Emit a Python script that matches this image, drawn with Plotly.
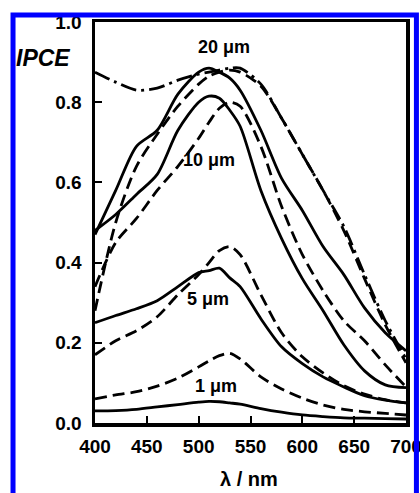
import plotly.graph_objects as go

# Wavelength grid (nm)
wavelength = [400, 420, 440, 460, 480, 500, 510, 520, 530, 540, 560, 580, 600, 620, 640, 660, 680, 700]

# IPCE values
ipce_1um_solid = [0.030, 0.031, 0.034, 0.040, 0.046, 0.052, 0.054, 0.053, 0.050, 0.047, 0.036, 0.027, 0.020, 0.016, 0.013, 0.012, 0.011, 0.010]
ipce_1um_dash = [0.060, 0.070, 0.078, 0.092, 0.112, 0.140, 0.155, 0.168, 0.174, 0.160, 0.115, 0.085, 0.062, 0.045, 0.034, 0.028, 0.024, 0.020]
ipce_5um_solid = [0.250, 0.268, 0.285, 0.305, 0.340, 0.375, 0.380, 0.386, 0.362, 0.340, 0.260, 0.190, 0.148, 0.115, 0.090, 0.068, 0.057, 0.050]
ipce_5um_dash = [0.170, 0.205, 0.230, 0.265, 0.320, 0.370, 0.400, 0.430, 0.440, 0.420, 0.320, 0.225, 0.165, 0.125, 0.093, 0.072, 0.058, 0.050]
ipce_10um_solid = [0.480, 0.520, 0.570, 0.620, 0.730, 0.800, 0.815, 0.810, 0.780, 0.740, 0.580, 0.460, 0.360, 0.280, 0.195, 0.130, 0.095, 0.088]
ipce_10um_dash = [0.340, 0.450, 0.510, 0.580, 0.640, 0.710, 0.750, 0.785, 0.800, 0.790, 0.690, 0.540, 0.420, 0.330, 0.255, 0.205, 0.145, 0.090]
ipce_20um_solid = [0.470, 0.580, 0.690, 0.730, 0.820, 0.875, 0.885, 0.875, 0.860, 0.830, 0.730, 0.610, 0.530, 0.440, 0.370, 0.287, 0.225, 0.180]
ipce_20um_dash = [0.280, 0.500, 0.640, 0.720, 0.790, 0.845, 0.865, 0.875, 0.880, 0.875, 0.840, 0.760, 0.670, 0.580, 0.480, 0.360, 0.245, 0.150]
ipce_20um_dashdot = [0.875, 0.850, 0.830, 0.835, 0.855, 0.870, 0.875, 0.880, 0.885, 0.885, 0.845, 0.760, 0.670, 0.580, 0.490, 0.370, 0.255, 0.160]

x_ticks = [400, 450, 500, 550, 600, 650, 700]
y_ticks = [0.0, 0.2, 0.4, 0.6, 0.8, 1.0]

labels = ["20 \u03bcm", "10 \u03bcm", "5 \u03bcm", "1 \u03bcm"]
label_x = [524.6, 510.2, 509.3, 516.9]
label_y = [0.938, 0.656, 0.309, 0.092]

DASH = "12px,6px"
DASHDOT = "16px,5px,3px,5px"

series = [
    (ipce_1um_solid, "solid"),
    (ipce_1um_dash, DASH),
    (ipce_5um_solid, "solid"),
    (ipce_5um_dash, DASH),
    (ipce_10um_solid, "solid"),
    (ipce_10um_dash, DASH),
    (ipce_20um_solid, "solid"),
    (ipce_20um_dash, DASH),
    (ipce_20um_dashdot, DASHDOT),
]

fig = go.Figure()
for vals, dash in series:
    fig.add_trace(go.Scatter(
        x=wavelength, y=vals, mode="lines",
        line=dict(color="black", width=2.8, dash=dash, shape="spline", smoothing=0.8),
        showlegend=False, hoverinfo="skip",
    ))

font_main = "Liberation Sans, Arial, sans-serif"

fig.update_xaxes(
    range=[400, 700], tickvals=x_ticks, ticktext=[str(v) for v in x_ticks],
    ticks="inside", ticklen=7, tickwidth=2, tickcolor="black",
    showline=True, linecolor="black", linewidth=3.5, mirror=True,
    showgrid=False, zeroline=False,
    tickfont=dict(family=font_main, size=19, color="black", weight="bold"),
    ticklabelstandoff=4,
)
fig.update_yaxes(
    range=[0, 1.0], tickvals=y_ticks, ticktext=["%.1f" % v for v in y_ticks],
    ticks="inside", ticklen=7, tickwidth=2, tickcolor="black",
    showline=True, linecolor="black", linewidth=3.5, mirror=True,
    showgrid=False, zeroline=False,
    tickfont=dict(family=font_main, size=19, color="black", weight="bold"),
    ticklabelstandoff=6,
)

annotations = []
for t, xx, yy in zip(labels, label_x, label_y):
    annotations.append(dict(
        x=xx, y=yy, xref="x", yref="y", text="<b>%s</b>" % t, showarrow=False,
        font=dict(family=font_main, size=18, color="black"),
        xanchor="center", yanchor="middle",
    ))
annotations.append(dict(
    x=-0.166, y=0.911, xref="paper", yref="paper", text="<b><i>IPCE</i></b>",
    showarrow=False, font=dict(family=font_main, size=23, color="black"),
    xanchor="center", yanchor="middle",
))
annotations.append(dict(
    x=0.495, y=-0.171, xref="paper", yref="paper", text="<b>\u03bb / nm</b>",
    showarrow=False, font=dict(family=font_main, size=20, color="black"),
    xanchor="center", yanchor="bottom",
))

fig.update_layout(
    width=434, height=493, autosize=False,
    margin=dict(l=95, r=16, t=19, b=70, pad=0),
    paper_bgcolor="white", plot_bgcolor="white",
    annotations=annotations,
    shapes=[dict(
        type="rect", xref="paper", yref="paper",
        x0=-0.2636, x1=1.0335, y0=-0.25, y1=1.0173,
        line=dict(color="#0000ff", width=5), layer="above",
    )],
)

fig.write_html(
    "out.html",
    config={"displayModeBar": False, "responsive": False, "staticPlot": True},
    post_script=(
        "document.documentElement.style.overflow='hidden';"
        "document.body.style.margin='0';"
        "document.body.style.overflow='hidden';"
    ),
)
